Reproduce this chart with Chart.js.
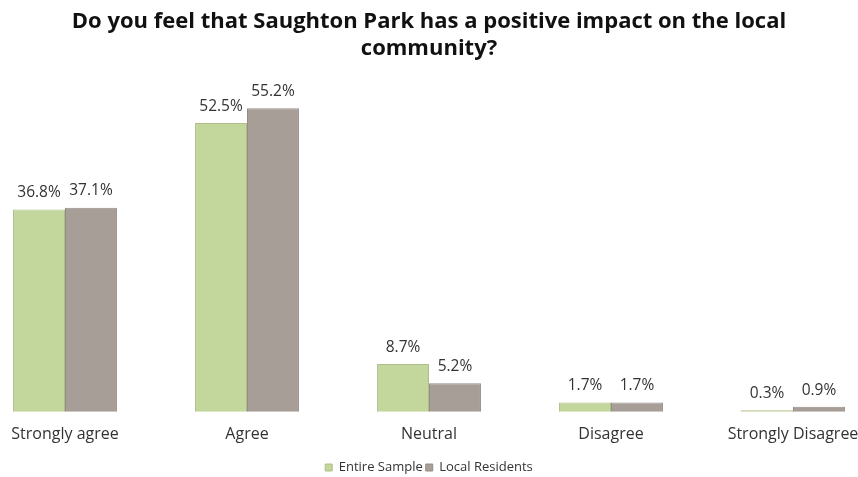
<!DOCTYPE html>
<html>
<head>
<meta charset="utf-8">
<script src="https://cdn.jsdelivr.net/npm/chart.js@4/dist/chart.umd.min.js"></script>
<style>
  html, body { margin: 0; padding: 0; background: #fff; }
  #wrap { width: 858px; height: 477px; }
</style>
</head>
<body>
<div id="wrap"><canvas id="parkChart"></canvas></div>
<script>
var categories = ['Strongly agree', 'Agree', 'Neutral', 'Disagree', 'Strongly Disagree'];
var entireSample = [36.8, 52.5, 8.7, 1.7, 0.3];
var localResidents = [37.1, 55.2, 5.2, 1.7, 0.9];
var seriesNames = ['Entire Sample', 'Local Residents'];

var FONT = '"Open Sans", Lato, sans-serif';

// value labels over each bar
var barLabels = {
    id: 'barLabels',
    afterDatasetsDraw: function(chart) {
        var ctx = chart.ctx;
        ctx.save();
        ctx.font = '15.5px ' + FONT;
        ctx.fillStyle = '#333';
        ctx.textAlign = 'center';
        ctx.textBaseline = 'bottom';
        chart.data.datasets.forEach(function(ds, i) {
            chart.getDatasetMeta(i).data.forEach(function(bar, j) {
                ctx.fillText(ds.data[j].toFixed(1) + '%', bar.x, bar.y - 9);
            });
        });
        ctx.restore();
    }
};

document.addEventListener('DOMContentLoaded', function() {
    var ctx = document.getElementById('parkChart').getContext('2d');
    new Chart(ctx, {
        type: 'bar',
        data: {
            labels: categories,
            datasets: [{
                label: seriesNames[0],
                data: entireSample,
                backgroundColor: '#c3d69b',
                borderColor: '#aebf89',
                borderWidth: 1,
                barPercentage: 1,
                categoryPercentage: 0.571
            }, {
                label: seriesNames[1],
                data: localResidents,
                backgroundColor: '#a89e98',
                borderColor: '#968c86',
                borderWidth: 1,
                barPercentage: 1,
                categoryPercentage: 0.571
            }]
        },
        options: {
            responsive: true,
            maintainAspectRatio: false,
            animation: false,
            clip: false,
            layout: { padding: { left: 65, right: 65, top: 0, bottom: -7 } },
            plugins: {
                title: {
                    display: true,
                    text: ['Do you feel that Saughton Park has a positive impact on the local', 'community?'],
                    color: '#111',
                    font: { family: FONT, size: 22, weight: 'bold', lineHeight: 1.23 },
                    padding: { top: 8, bottom: 12 }
                },
                legend: {
                    position: 'bottom',
                    labels: {
                        boxWidth: 7,
                        boxHeight: 7,
                        color: '#333',
                        font: { family: FONT, size: 13 },
                        padding: 3
                    }
                },
                tooltip: { enabled: false }
            },
            scales: {
                x: {
                    offset: false,
                    grid: { display: false },
                    border: { display: false },
                    ticks: {
                        color: '#333',
                        font: { family: FONT, size: 16 },
                        maxRotation: 0,
                        autoSkip: false,
                        padding: 5
                    },
                    // keep the outer labels from squeezing the plot, leave room above the legend
                    afterFit: function(scale) {
                        scale.paddingLeft = 0;
                        scale.paddingRight = 0;
                        scale.height += 9;
                    }
                },
                y: {
                    display: false,
                    min: 0,
                    max: 61.4
                }
            }
        },
        plugins: [barLabels]
    });
});
</script>
</body>
</html>
